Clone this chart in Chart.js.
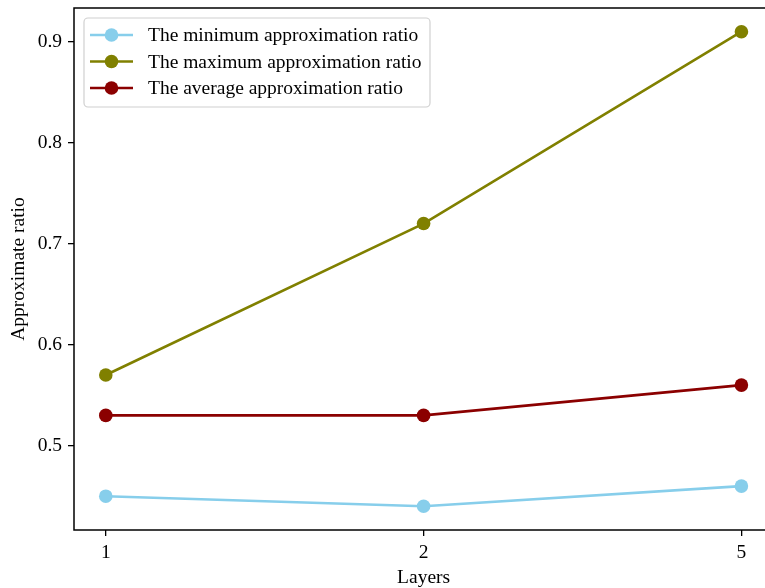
<!DOCTYPE html>
<html>
<head>
<meta charset="utf-8">
<script src="https://cdn.jsdelivr.net/npm/chart.js@4/dist/chart.umd.min.js"></script>
<style>
html,body{margin:0;padding:0;background:#fff;overflow:hidden;width:765px;height:588px;}
#wrap{position:relative;width:780px;height:588px;}
</style>
</head>
<body>
<div id="wrap"><canvas id="c" width="780" height="588"></canvas></div>
<script>
const layers = ['1', '2', '5'];
const minRatio = [0.45, 0.44, 0.46];
const maxRatio = [0.57, 0.72, 0.91];
const avgRatio = [0.53, 0.53, 0.56];
const yTicks = [0.5, 0.6, 0.7, 0.8, 0.9];
const seriesNames = ['The minimum approximation ratio', 'The maximum approximation ratio', 'The average approximation ratio'];
const seriesColors = ['#87CEEB', '#808000', '#8B0000'];

const FONT = '"Liberation Serif", "Times New Roman", serif';
const FS = 19.5;
const LW = 2.6;
const PR = 6.8;

function pts(arr){ return arr.map((v,i)=>({x:i,y:v})); }

const datasets = [minRatio, maxRatio, avgRatio].map((arr, i) => ({
  label: seriesNames[i],
  data: pts(arr),
  borderColor: seriesColors[i],
  backgroundColor: seriesColors[i],
  borderWidth: LW,
  pointRadius: PR,
  pointHoverRadius: PR,
  pointBorderWidth: 0,
  pointBackgroundColor: seriesColors[i],
  tension: 0
}));

const framePlugin = {
  id: 'frame',
  afterDraw(chart){
    const {ctx, chartArea:a} = chart;
    ctx.save();
    ctx.strokeStyle = '#000';
    ctx.lineWidth = 1.5;
    ctx.strokeRect(a.left, a.top, a.right - a.left, a.bottom - a.top);
    ctx.restore();
  }
};

const legendPlugin = {
  id: 'innerLegend',
  afterDraw(chart){
    const ctx = chart.ctx;
    const bx = 84, by = 18, bw = 346, bh = 89, r = 4;
    ctx.save();
    ctx.beginPath();
    ctx.moveTo(bx + r, by);
    ctx.lineTo(bx + bw - r, by);
    ctx.arcTo(bx + bw, by, bx + bw, by + r, r);
    ctx.lineTo(bx + bw, by + bh - r);
    ctx.arcTo(bx + bw, by + bh, bx + bw - r, by + bh, r);
    ctx.lineTo(bx + r, by + bh);
    ctx.arcTo(bx, by + bh, bx, by + bh - r, r);
    ctx.lineTo(bx, by + r);
    ctx.arcTo(bx, by, bx + r, by, r);
    ctx.closePath();
    ctx.fillStyle = 'rgba(255,255,255,0.85)';
    ctx.fill();
    ctx.strokeStyle = '#d0d0d0';
    ctx.lineWidth = 1.2;
    ctx.stroke();
    const rows = [35, 61.5, 88];
    chart.data.datasets.forEach((ds, i) => {
      const y = rows[i];
      ctx.strokeStyle = ds.borderColor;
      ctx.lineWidth = LW;
      ctx.beginPath();
      ctx.moveTo(90, y);
      ctx.lineTo(133, y);
      ctx.stroke();
      ctx.fillStyle = ds.borderColor;
      ctx.beginPath();
      ctx.arc(111.5, y, PR, 0, Math.PI * 2);
      ctx.fill();
      ctx.fillStyle = '#000';
      ctx.font = FS + 'px ' + FONT;
      ctx.textBaseline = 'middle';
      ctx.textAlign = 'left';
      ctx.fillText(ds.label, 148, y + 1);
    });
    ctx.restore();
  }
};

new Chart(document.getElementById('c'), {
  type: 'line',
  data: { datasets },
  plugins: [framePlugin, legendPlugin],
  options: {
    responsive: false,
    animation: false,
    events: [],
    layout: { padding: { top: 8, right: 5, left: 0, bottom: 0 } },
    plugins: { legend: { display: false }, tooltip: { enabled: false } },
    scales: {
      x: {
        type: 'linear',
        min: -0.1,
        max: 2.1,
        afterBuildTicks(scale){ scale.ticks = layers.map((_, i) => ({ value: i })); },
        afterFit(scale){ scale.height = 58; scale.paddingLeft = 0; scale.paddingRight = 0; },
        ticks: {
          color: '#000',
          font: { family: FONT, size: FS },
          padding: 5,
          maxRotation: 0,
          callback: (v) => layers[v]
        },
        grid: { display: true, drawOnChartArea: false, drawTicks: true, tickLength: 6, color: '#000', lineWidth: 1.3 },
        border: { display: false },
        title: {
          display: true,
          text: 'Layers',
          color: '#000',
          font: { family: FONT, size: FS, lineHeight: 1 },
          padding: { top: 0, bottom: 0 }
        }
      },
      y: {
        type: 'linear',
        min: 0.4165,
        max: 0.9335,
        afterBuildTicks(scale){ scale.ticks = yTicks.map(v => ({ value: v })); },
        afterFit(scale){ scale.width = 74; scale.paddingTop = 0; scale.paddingBottom = 0; },
        ticks: {
          color: '#000',
          font: { family: FONT, size: FS },
          padding: 6,
          callback: (v) => v.toFixed(1)
        },
        grid: { display: true, drawOnChartArea: false, drawTicks: true, tickLength: 6, color: '#000', lineWidth: 1.3 },
        border: { display: false },
        title: {
          display: true,
          text: 'Approximate ratio',
          color: '#000',
          font: { family: FONT, size: FS, lineHeight: 1 },
          padding: { top: 9.5, bottom: 0 }
        }
      }
    }
  }
});
</script>
</body>
</html>
